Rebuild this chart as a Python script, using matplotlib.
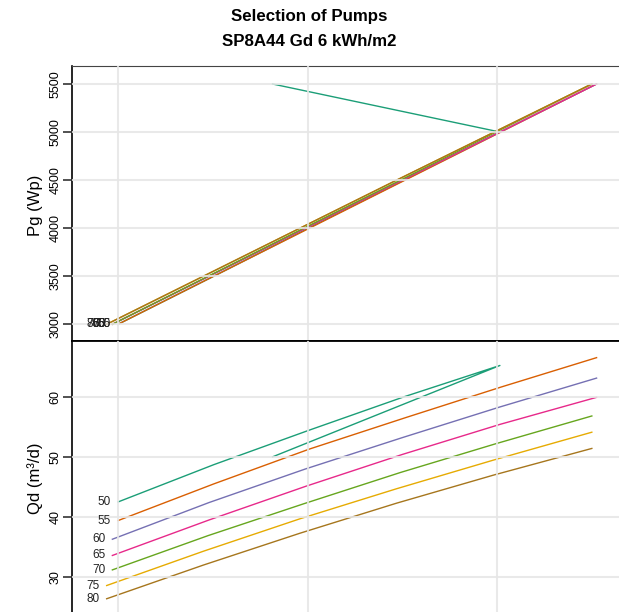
import matplotlib
matplotlib.use('Agg')
import matplotlib.pyplot as plt

plt.rcParams['font.family'] = ['Liberation Sans', 'DejaVu Sans']

# alturas (m) de cada curva
heights = ['50', '55', '60', '65', '70', '75', '80']
colors = ['#1B9E77', '#D95F02', '#7570B3', '#E7298A', '#66A61E', '#E6AB02', '#A6761D']

# potencia del generador (eje y panel superior)
pg_50 = [3000, 3500, 4000, 4500, 5000, 5500]
pg_all = [3000, 3500, 4000, 4500, 5000, 5500]

# eje x compartido (Wp)
x_50 = [3000, 3505, 4005, 4510, 5015, 3815]
x_55 = [3000, 3505, 4010, 4515, 5020, 5525]
x_60 = [2970, 3480, 3990, 4500, 5015, 5525]
x_65 = [2970, 3480, 3990, 4500, 5015, 5525]
x_70 = [2970, 3475, 3980, 4490, 4995, 5500]
x_75 = [2940, 3450, 3960, 4470, 4985, 5500]
x_80 = [2940, 3450, 3960, 4470, 4985, 5500]

# caudal diario (m3/d)
qd_50 = [42.5, 48.7, 54.4, 60.0, 65.2, 50.0]
qd_55 = [39.4, 45.5, 51.3, 56.5, 61.6, 66.5]
qd_60 = [36.3, 42.4, 48.0, 53.2, 58.3, 63.1]
qd_65 = [33.6, 39.5, 45.1, 50.4, 55.4, 59.9]
qd_70 = [31.2, 36.9, 42.2, 47.4, 52.2, 56.8]
qd_75 = [28.6, 34.3, 39.7, 44.7, 49.5, 54.1]
qd_80 = [26.4, 32.0, 37.3, 42.3, 47.0, 51.4]

xs = [x_50, x_55, x_60, x_65, x_70, x_75, x_80]
pgs = [pg_50] + [pg_all] * 6
qds = [qd_50, qd_55, qd_60, qd_65, qd_70, qd_75, qd_80]

pg_ticks = [3000, 3500, 4000, 4500, 5000, 5500]
qd_ticks = [30, 40, 50, 60]
x_grid = [3000, 4000, 5000]

W, H = 619, 612
fig = plt.figure(figsize=(W / 100, H / 100), dpi=100)

def px_box(left, top, right, bottom):
    return [left / W, 1 - bottom / H, (right - left) / W, (bottom - top) / H]

ax1 = fig.add_axes(px_box(72, 66, 625, 341))
ax2 = fig.add_axes(px_box(72, 341, 625, 624))

xlim = (2757, 5675)
for ax in (ax1, ax2):
    ax.set_xlim(xlim)
    ax.set_axisbelow(False)
    ax.set_xticks(x_grid)
    ax.tick_params(axis='x', length=0, labelbottom=False)
    ax.tick_params(axis='y', length=6.5, width=1.2, color='#333333', labelsize=9,
                   pad=1)
    ax.grid(True, color='#E6E6E6', linewidth=1.5, alpha=0.85)
    ax.spines['right'].set_visible(False)
    ax.spines['left'].set_linewidth(1.2)

ax1.set_ylim(2826, 5687)
ax1.set_yticks(pg_ticks)
ax1.set_yticklabels([str(t) for t in pg_ticks], rotation=90, va='center')
ax1.spines['top'].set_color('#444444')
ax1.spines['bottom'].set_linewidth(1.3)

ax2.set_ylim(22.2, 69.27)
ax2.set_yticks(qd_ticks)
ax2.set_yticklabels([str(t) for t in qd_ticks], rotation=90, va='center')
ax2.spines['bottom'].set_visible(False)
ax2.spines['top'].set_linewidth(1.3)

for h, c, x, pg, qd in zip(heights, colors, xs, pgs, qds):
    ax1.plot(x, pg, color=c, linewidth=1.0)
    ax2.plot(x, qd, color=c, linewidth=1.0)
    ax1.annotate(h, (x[0], pg[0]), xytext=(-5, 0), textcoords='offset points',
                 ha='right', va='center', fontsize=8.5, color='#222222')
    ax2.annotate(h, (x[0], qd[0]), xytext=(-5, 0), textcoords='offset points',
                 ha='right', va='center', fontsize=8.5, color='#222222')

ax1.set_ylabel('Pg (Wp)', fontsize=12)
ax1.yaxis.set_label_coords(-0.052, 0.495)
ax2.set_ylabel('Qd (m³/d)', fontsize=12)
ax2.yaxis.set_label_coords(-0.052, 0.516)

fig.text(0.5, 1 - 16 / H, 'Selection of Pumps', ha='center', va='center',
         fontsize=12.2, fontweight='bold')
fig.text(0.5, 1 - 41 / H, 'SP8A44 Gd 6 kWh/m2', ha='center', va='center',
         fontsize=12.2, fontweight='bold')

fig.savefig('out.png', dpi=100)
